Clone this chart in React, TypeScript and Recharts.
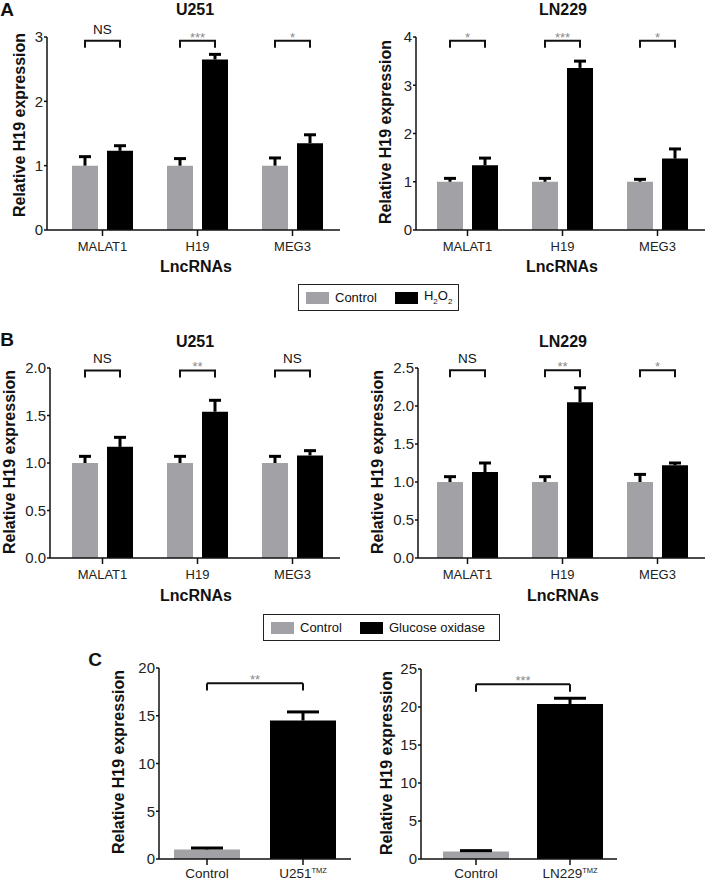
import React from "react";
import {
  BarChart,
  Bar,
  XAxis,
  YAxis,
  ErrorBar,
  LabelList,
  Cell,
  ReferenceLine,
} from "recharts";

const FONT = '"Liberation Sans", Arial, Helvetica, sans-serif';
const GREY = "#a2a2a6";
const INK = "#111";
const BAR_GAP = 9;

const lncRNAs = ["MALAT1", "H19", "MEG3"];

// A — H2O2
const aU251Control = [1, 1, 1];
const aU251ControlSd = [0.14, 0.11, 0.12];
const aU251H2O2 = [1.23, 2.65, 1.35];
const aU251H2O2Sd = [0.08, 0.08, 0.13];
const aU251Sig = ["NS", "***", "*"];

const aLN229Control = [1, 1, 1];
const aLN229ControlSd = [0.07, 0.07, 0.05];
const aLN229H2O2 = [1.34, 3.36, 1.48];
const aLN229H2O2Sd = [0.15, 0.14, 0.2];
const aLN229Sig = ["*", "***", "*"];

// B — glucose oxidase
const bU251Control = [1, 1, 1];
const bU251ControlSd = [0.07, 0.07, 0.07];
const bU251Gox = [1.17, 1.54, 1.08];
const bU251GoxSd = [0.1, 0.12, 0.05];
const bU251Sig = ["NS", "**", "NS"];

const bLN229Control = [1, 1, 1];
const bLN229ControlSd = [0.07, 0.07, 0.1];
const bLN229Gox = [1.13, 2.05, 1.22];
const bLN229GoxSd = [0.12, 0.19, 0.03];
const bLN229Sig = ["NS", "**", "*"];

// C — TMZ resistant lines
const cU251Groups = ["Control", "U251TMZ"];
const cU251Values = [1, 14.5];
const cU251Sd = [0.15, 0.9];
const cU251Sig = "**";
const cLN229Groups = ["Control", "LN229TMZ"];
const cLN229Values = [1, 20.4];
const cLN229Sd = [0.1, 0.75];
const cLN229Sig = "***";

// axis ticks
const aU251Ticks = [0, 1, 2, 3];
const aLN229Ticks = [0, 1, 2, 3, 4];
const bU251Ticks = [0, 0.5, 1, 1.5, 2];
const bLN229Ticks = [0, 0.5, 1, 1.5, 2, 2.5];
const cU251Ticks = [0, 5, 10, 15, 20];
const cLN229Ticks = [0, 5, 10, 15, 20, 25];

// bracket heights (data units)
const aU251Bracket = 2.94;
const aLN229Bracket = 3.92;
const bU251Bracket = 1.975;
const bLN229Bracket = 2.47;
const cU251Bracket = [18.4, 17.65];
const cLN229Bracket = [23.0, 22.0];

const legendA = ["Control", "H2O2"];
const legendB = ["Control", "Glucose oxidase"];

const axisStyle = { stroke: INK, strokeWidth: 1.5 };
const tickFont = { fontSize: 13, fill: "#222" };
const yTickFont = { fontSize: 15, fill: "#222" };

function GroupedPanel(props: any) {
  const {
    left, top, height, plotTop, yWidth, right, padLeft,
    control, controlSd, treated, treatedSd, sig, ticks, decimals, bracket,
  } = props;
  const rows = lncRNAs.map((name, i) => ({
    name,
    control: control[i],
    controlSd: [0, controlSd[i]],
    treated: treated[i],
    treatedSd: [0, treatedSd[i]],
  }));

  const drawBracket = (p: any) => {
    const i = p.index;
    const w = Number(p.width);
    const h = Number(p.height);
    const base = Number(p.y) + h;
    const perUnit = h / rows[i].treated;
    const by = base - bracket * perUnit;
    const x2 = Number(p.x) + w / 2;
    const x1 = x2 - w - BAR_GAP;
    const s = sig[i];
    const star = s.includes("*");
    return (
      <g key={`br-${i}`}>
        <path
          d={`M${x1},${by + 7}V${by}H${x2}V${by + 7}`}
          stroke={INK}
          strokeWidth={2}
          fill="none"
        />
        <text
          x={(x1 + x2) / 2}
          y={star ? by + 1 : by - 7}
          textAnchor="middle"
          fontSize={star ? 13 : 13.5}
          fill={star ? "#8a8a8a" : INK}
        >
          {s}
        </text>
      </g>
    );
  };

  return (
    <div style={{ position: "absolute", left, top }}>
      <BarChart
        width={353}
        height={height}
        data={rows}
        margin={{ top: plotTop, right, bottom: 0, left: 0 }}
        barSize={26}
        barGap={BAR_GAP}
      >
        <XAxis
          dataKey="name"
          padding={{ left: padLeft, right: 0 }}
          axisLine={axisStyle}
          tickLine={axisStyle}
          tickSize={6}
          tickMargin={6}
          tick={tickFont}
          height={30}
        />
        <YAxis
          width={yWidth}
          domain={[0, ticks[ticks.length - 1]]}
          ticks={ticks}
          tickFormatter={(v) => v.toFixed(decimals)}
          axisLine={axisStyle}
          tickLine={axisStyle}
          tickSize={3}
          tickMargin={1}
          tick={yTickFont}
        />
        <Bar dataKey="control" fill={GREY} isAnimationActive={false}>
          <ErrorBar dataKey="controlSd" direction="y" width={6} strokeWidth={3} stroke="#000" />
        </Bar>
        <Bar dataKey="treated" fill="#000" isAnimationActive={false}>
          <ErrorBar dataKey="treatedSd" direction="y" width={6} strokeWidth={3} stroke="#000" />
          <LabelList dataKey="treated" content={drawBracket} />
        </Bar>
      </BarChart>
    </div>
  );
}

const TmzTick = (p: any) => {
  const v: string = p.payload.value;
  const tmz = v.endsWith("TMZ");
  return (
    <text x={p.x} y={p.y} dy="0.71em" textAnchor="middle" fontSize={13.5} fill="#222">
      {tmz ? v.slice(0, -3) : v}
      {tmz && (
        <tspan dy={-5} fontSize={7.5}>
          TMZ
        </tspan>
      )}
    </text>
  );
};

function TmzPanel(props: any) {
  const { left, top, plotTop, yWidth, right, padLeft, groups, values, sd, ticks, bracket, sig } = props;
  const rows = groups.map((name: string, i: number) => ({ name, value: values[i], sd: [0, sd[i]] }));
  const sigLabel = (p: any) => {
    const vb = p.viewBox;
    return (
      <text x={vb.x + vb.width / 2} y={vb.y + 1} textAnchor="middle" fontSize={13} fill="#8a8a8a">
        {sig}
      </text>
    );
  };
  const g0 = groups[0];
  const g1 = groups[1];
  return (
    <div style={{ position: "absolute", left, top }}>
      <BarChart
        width={353}
        height={240}
        data={rows}
        margin={{ top: plotTop, right, bottom: 0, left: 0 }}
        barSize={66}
      >
        <XAxis
          dataKey="name"
          padding={{ left: padLeft, right: 0 }}
          axisLine={axisStyle}
          tickLine={axisStyle}
          tickSize={6}
          tickMargin={3}
          tick={<TmzTick />}
          height={21}
        />
        <YAxis
          width={yWidth}
          domain={[0, ticks[ticks.length - 1]]}
          ticks={ticks}
          axisLine={axisStyle}
          tickLine={axisStyle}
          tickSize={3}
          tickMargin={1}
          tick={yTickFont}
        />
        <Bar dataKey="value" isAnimationActive={false}>
          {rows.map((r: any, i: number) => (
            <Cell key={r.name} fill={i === 0 ? GREY : "#000"} />
          ))}
          <ErrorBar dataKey="sd" direction="y" width={16} strokeWidth={3} stroke="#000" />
        </Bar>
        <ReferenceLine
          segment={[{ x: g0, y: bracket[0] }, { x: g1, y: bracket[0] }]}
          stroke={INK}
          strokeWidth={2}
          label={sigLabel}
        />
        <ReferenceLine segment={[{ x: g0, y: bracket[0] }, { x: g0, y: bracket[1] }]} stroke={INK} strokeWidth={2} />
        <ReferenceLine segment={[{ x: g1, y: bracket[0] }, { x: g1, y: bracket[1] }]} stroke={INK} strokeWidth={2} />
      </BarChart>
    </div>
  );
}

function Caption({ x, y, size = 16, bold = true, rotate = false, children }: any) {
  return (
    <div
      style={{
        position: "absolute",
        left: x,
        top: y,
        transform: `translate(-50%, -50%)${rotate ? " rotate(-90deg)" : ""}`,
        fontSize: size,
        fontWeight: bold ? 700 : 400,
        whiteSpace: "nowrap",
        lineHeight: 1,
        color: "#111",
      }}
    >
      {children}
    </div>
  );
}

function renderName(name: string) {
  if (name === "H2O2") {
    return (
      <span>
        H<sub style={{ fontSize: 8 }}>2</sub>O<sub style={{ fontSize: 8 }}>2</sub>
      </span>
    );
  }
  return name;
}

function LegendBox({ left, top, width, items }: any) {
  return (
    <div
      style={{
        position: "absolute",
        left,
        top,
        width,
        height: 27,
        boxSizing: "border-box",
        border: "1px solid #222",
        display: "flex",
        alignItems: "center",
        paddingLeft: 7,
        fontSize: 13,
        color: "#111",
      }}
    >
      {items.map((name: string, i: number) => (
        <div key={name} style={{ display: "flex", alignItems: "center", marginLeft: i === 0 ? 0 : 18 }}>
          <span style={{ width: 23, height: 12, background: i === 0 ? GREY : "#000", marginRight: 6, display: "inline-block" }} />
          <span style={{ lineHeight: 1 }}>{renderName(name)}</span>
        </div>
      ))}
    </div>
  );
}

const yTitle = "Relative H19 expression";

export default function App() {
  return (
    <div
      style={{
        position: "absolute",
        left: 0,
        top: 0,
        width: 706,
        height: 880,
        overflow: "hidden",
        background: "#fff",
        fontFamily: FONT,
      }}
    >
      <style>{`.recharts-errorBar line:nth-of-type(3){display:none}`}</style>

      <GroupedPanel
        left={0} top={0} height={260} plotTop={37} yWidth={47} right={13} padLeft={8}
        control={aU251Control} controlSd={aU251ControlSd} treated={aU251H2O2} treatedSd={aU251H2O2Sd}
        sig={aU251Sig} ticks={aU251Ticks} decimals={0} bracket={aU251Bracket}
      />
      <GroupedPanel
        left={353} top={0} height={260} plotTop={37} yWidth={63} right={1} padLeft={4}
        control={aLN229Control} controlSd={aLN229ControlSd} treated={aLN229H2O2} treatedSd={aLN229H2O2Sd}
        sig={aLN229Sig} ticks={aLN229Ticks} decimals={0} bracket={aLN229Bracket}
      />
      <GroupedPanel
        left={0} top={300} height={288} plotTop={68} yWidth={50} right={13} padLeft={5}
        control={bU251Control} controlSd={bU251ControlSd} treated={bU251Gox} treatedSd={bU251GoxSd}
        sig={bU251Sig} ticks={bU251Ticks} decimals={1} bracket={bU251Bracket}
      />
      <GroupedPanel
        left={353} top={300} height={288} plotTop={68} yWidth={65} right={1} padLeft={2}
        control={bLN229Control} controlSd={bLN229ControlSd} treated={bLN229Gox} treatedSd={bLN229GoxSd}
        sig={bLN229Sig} ticks={bLN229Ticks} decimals={1} bracket={bLN229Bracket}
      />
      <TmzPanel
        left={0} top={640} plotTop={28} yWidth={159} right={2} padLeft={0}
        groups={cU251Groups} values={cU251Values} sd={cU251Sd} ticks={cU251Ticks}
        bracket={cU251Bracket} sig={cU251Sig}
      />
      <TmzPanel
        left={353} top={640} plotTop={29} yWidth={68} right={89} padLeft={8}
        groups={cLN229Groups} values={cLN229Values} sd={cLN229Sd} ticks={cLN229Ticks}
        bracket={cLN229Bracket} sig={cLN229Sig}
      />

      <Caption x={7} y={9} size={19}>A</Caption>
      <Caption x={195} y={10}>U251</Caption>
      <Caption x={563} y={10}>LN229</Caption>
      <Caption x={20} y={125} rotate>{yTitle}</Caption>
      <Caption x={385.5} y={132} rotate>{yTitle}</Caption>
      <Caption x={196} y={267}>LncRNAs</Caption>
      <Caption x={562} y={267}>LncRNAs</Caption>
      <LegendBox left={298} top={284} width={161} items={legendA} />

      <Caption x={7} y={339} size={19}>B</Caption>
      <Caption x={195} y={342}>U251</Caption>
      <Caption x={563} y={342}>LN229</Caption>
      <Caption x={10} y={462} rotate>{yTitle}</Caption>
      <Caption x={377.5} y={462} rotate>{yTitle}</Caption>
      <Caption x={196} y={596}>LncRNAs</Caption>
      <Caption x={563} y={596}>LncRNAs</Caption>
      <LegendBox left={263} top={614} width={237} items={legendB} />

      <Caption x={95} y={659} size={19}>C</Caption>
      <Caption x={118.5} y={762} rotate>{yTitle}</Caption>
      <Caption x={386.5} y={763} rotate>{yTitle}</Caption>
    </div>
  );
}
